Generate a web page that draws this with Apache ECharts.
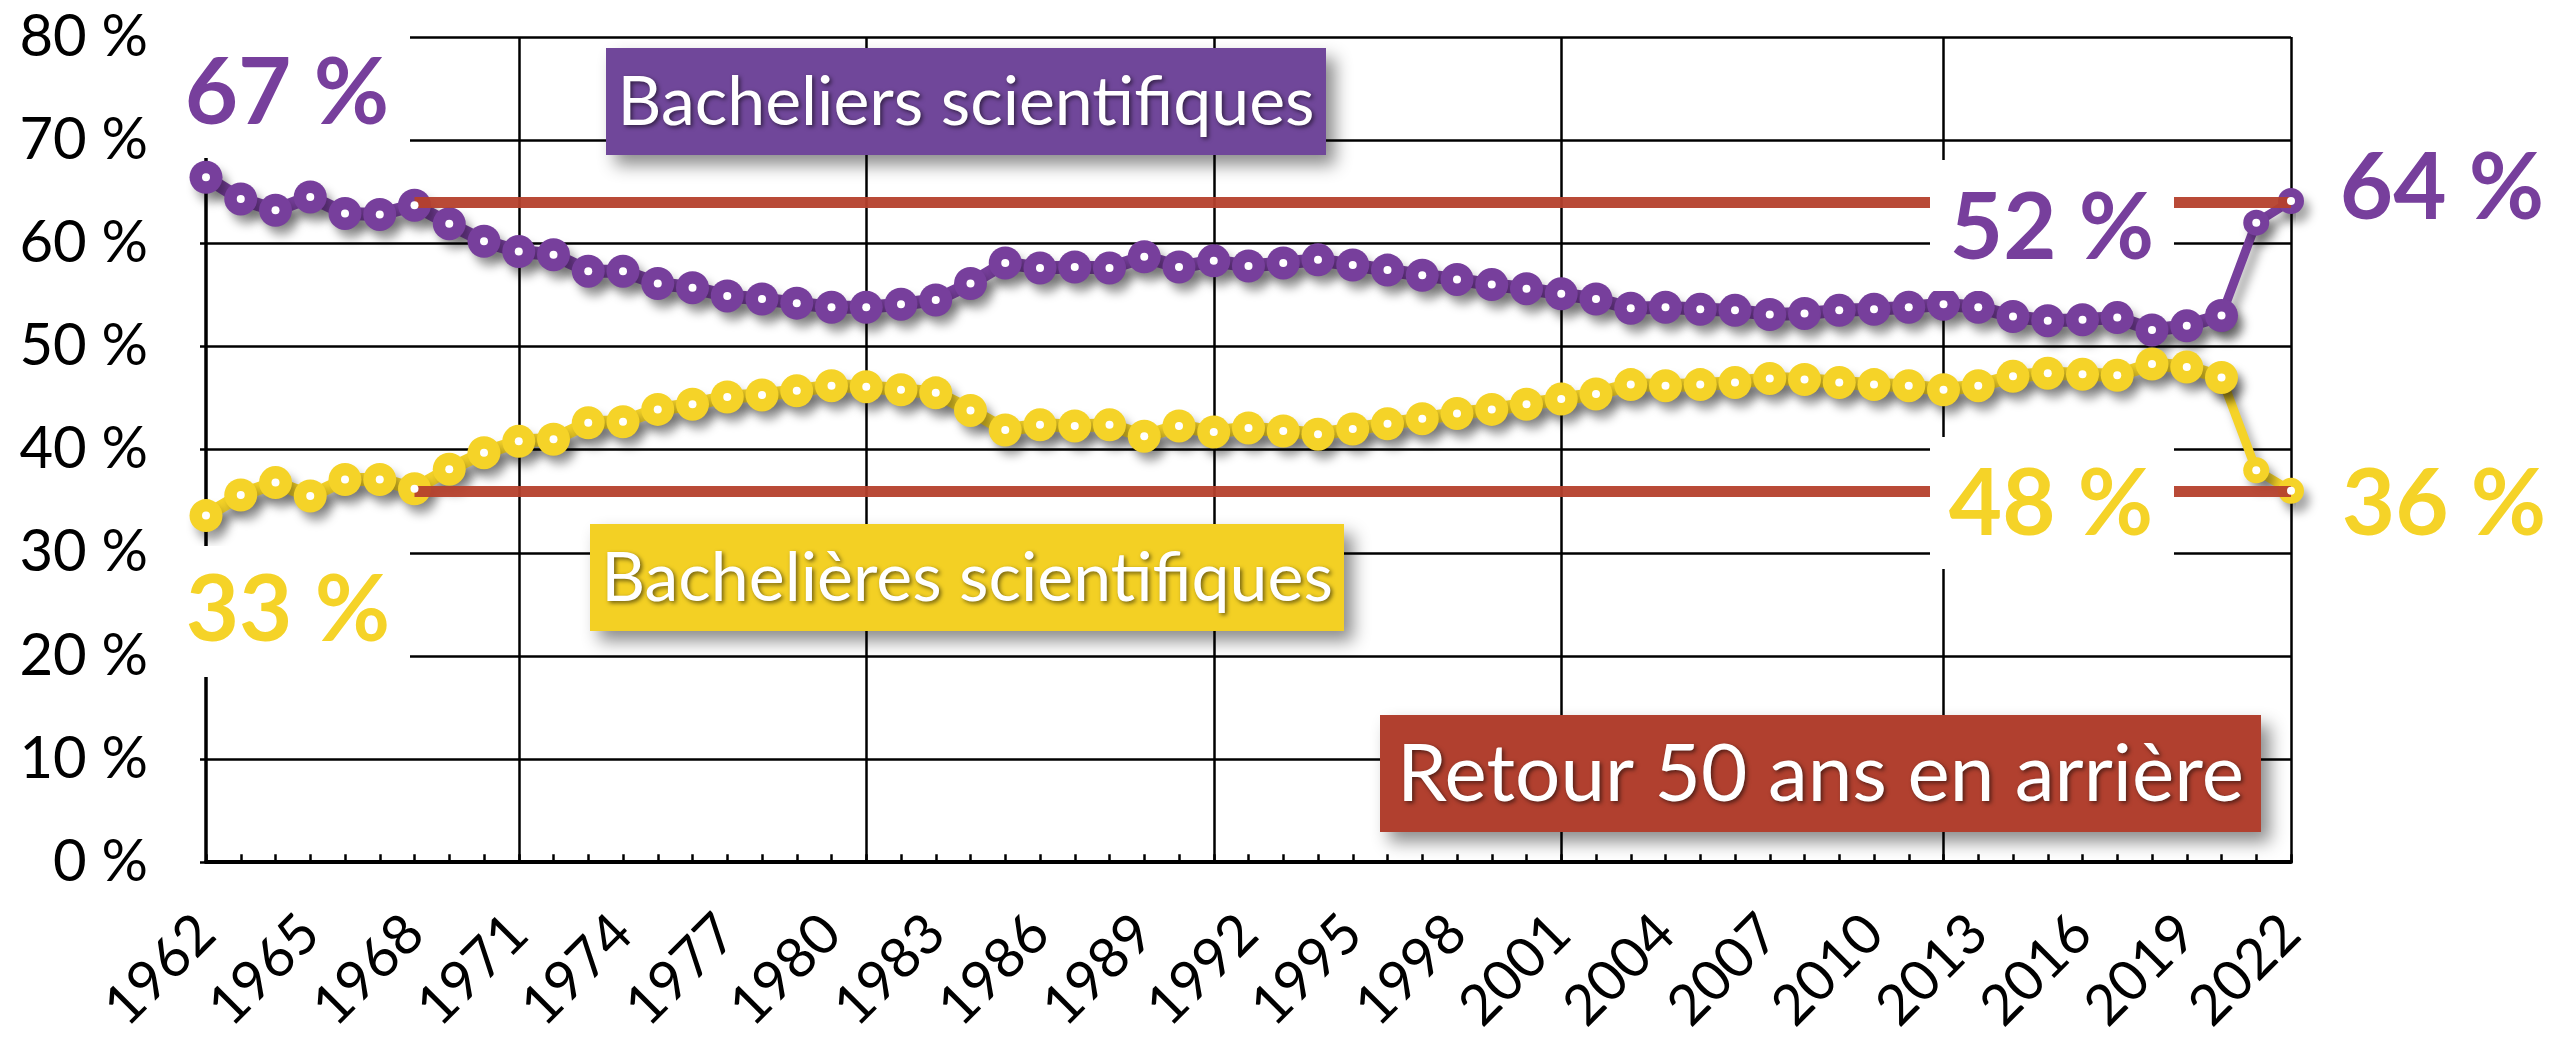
<!DOCTYPE html>
<html>
<head>
<meta charset="utf-8">
<title>Bacheliers scientifiques</title>
<script src="https://cdn.jsdelivr.net/npm/echarts@6/dist/echarts.min.js"></script>
<style>
html, body { margin: 0; padding: 0; background: #fff; }
#chart { width: 2558px; height: 1038px; }
</style>
</head>
<body>
<div id="chart"></div>
<script>
// années du bac (catégories de l'axe x)
var years = ['1962','1963','1964','1965','1966','1967','1968','1969','1970','1971',
	'1972','1973','1974','1975','1976','1977','1978','1979','1980','1981',
	'1982','1983','1984','1985','1986','1987','1988','1989','1990','1991',
	'1992','1993','1994','1995','1996','1997','1998','1999','2000','2001',
	'2002','2003','2004','2005','2006','2007','2008','2009','2010','2011',
	'2012','2013','2014','2015','2016','2017','2018','2019','2020','2021','2022'];

// part des garçons parmi les bacheliers scientifiques (%)
var garcons = [66.4,64.3,63.2,64.5,62.9,62.8,63.7,61.9,60.2,59.2,
	58.9,57.3,57.3,56.1,55.7,54.9,54.6,54.2,53.8,53.8,
	54.1,54.5,56.1,58.1,57.6,57.7,57.6,58.7,57.7,58.3,
	57.8,58.1,58.4,57.9,57.4,56.9,56.5,56.0,55.6,55.1,
	54.6,53.7,53.8,53.6,53.5,53.1,53.2,53.5,53.6,53.8,
	54.1,53.8,52.9,52.5,52.6,52.8,51.6,52.0,53.0,62.0,64.1];

// part des filles (%)
var filles = [33.6,35.6,36.8,35.5,37.1,37.1,36.2,38.1,39.7,40.8,
	41.0,42.6,42.7,43.9,44.4,45.1,45.3,45.7,46.2,46.1,
	45.8,45.5,43.8,41.9,42.4,42.3,42.4,41.3,42.3,41.7,
	42.1,41.8,41.5,42.0,42.5,43.0,43.5,43.9,44.4,44.9,
	45.4,46.3,46.2,46.3,46.5,46.9,46.8,46.5,46.3,46.2,
	45.8,46.2,47.1,47.4,47.3,47.2,48.3,48.0,47.0,38.0,36.0];

// niveaux de 1968 ("retour 50 ans en arrière")
var refStart = '1968';
var refLevels = [64, 36];

// années des traits verticaux de la grille
var gridYears = ['1971','1981','1991','2001','2012','2022'];
var tailStart = '2020'; // trait plus fin à partir d'ici

var PURPLE = '#773f9c', YELLOW = '#f5d328', RED = '#b5402c';
var FONT = 'Lato, "Open Sans", sans-serif';

var tailIdx = years.indexOf(tailStart);
var head = function(arr){ return arr.map(function(v,i){ return i <= tailIdx ? v : null; }); };
var tail = function(arr){ return arr.map(function(v,i){ return i >= tailIdx ? v : null; }); };

var shadow = {
	shadowColor: 'rgba(0,0,0,0.35)',
	shadowBlur: 10,
	shadowOffsetX: 6,
	shadowOffsetY: 9
};

// trait + grosses pastilles colorées
let beadSeries = (name, data, color, lineW, dotSize, z) => ({
	name: name,
	type: 'line',
	z: z,
	data: data,
	symbol: 'circle',
	symbolSize: dotSize,
	showAllSymbol: true,
	lineStyle: Object.assign({ color: color, width: lineW }, shadow),
	itemStyle: Object.assign({ color: color }, shadow),
	emphasis: { disabled: true }
});

// petits points blancs au centre des pastilles
let whiteDots = (name, data, size) => ({
	name: name + ' (points)',
	type: 'line',
	z: 6,
	data: data,
	symbol: 'circle',
	symbolSize: size,
	showAllSymbol: true,
	lineStyle: { width: 0, opacity: 0 },
	itemStyle: { color: '#fff' },
	emphasis: { disabled: true }
});

let whiteBox = (x, y, w, h) => ({
	type: 'rect', z: 50,
	shape: { x: x, y: y, width: w, height: h },
	style: { fill: '#fff' }
});

let bigLabel = (text, x, y, color) => ({
	type: 'text', z: 60,
	style: {
		text: text, x: x, y: y, fill: color,
		font: 'bold 92px ' + FONT,
		align: 'center', verticalAlign: 'middle'
	}
});

let tagBox = (text, x, y, w, h, color, size) => ({
	type: 'group', z: 70,
	children: [{
		type: 'rect', z: 70,
		shape: { x: x, y: y, width: w, height: h },
		style: {
			fill: color,
			shadowColor: 'rgba(0,0,0,0.45)',
			shadowBlur: 16, shadowOffsetX: 9, shadowOffsetY: 10
		}
	}, {
		type: 'text', z: 71,
		style: {
			text: text, x: x + w / 2, y: y + h / 2 + 2, fill: '#fff',
			font: size + 'px ' + FONT,
			align: 'center', verticalAlign: 'middle',
			textShadowColor: 'rgba(0,0,0,0.55)', textShadowBlur: 4,
			textShadowOffsetX: 2, textShadowOffsetY: 2
		}
	}]
});

var chart = echarts.init(document.getElementById('chart'));
var option = {
	animation: false,
	backgroundColor: '#fff',
	grid: { left: 206, right: 267, top: 37, bottom: 173 },
	xAxis: {
		type: 'category',
		data: years,
		boundaryGap: false,
		axisLine: { lineStyle: { color: '#000', width: 4 } },
		axisTick: {
			inside: true, length: 8, interval: 0,
			lineStyle: { color: '#000', width: 2.5 }
		},
		axisLabel: {
			interval: 2, rotate: 45, margin: 62,
			fontFamily: FONT, fontSize: 56, color: '#000'
		},
		splitLine: {
			show: true,
			interval: function(index, value){ return gridYears.indexOf(value) >= 0; },
			lineStyle: { color: '#000', width: 2.5 }
		}
	},
	yAxis: {
		type: 'value',
		min: 0, max: 80, interval: 10,
		axisLine: { show: true, lineStyle: { color: '#000', width: 3.5 } },
		axisTick: { show: true, length: 6, lineStyle: { color: '#000', width: 2.5 } },
		axisLabel: {
			formatter: '{value} %', margin: 58,
			fontFamily: FONT, fontSize: 58, color: '#000'
		},
		splitLine: { lineStyle: { color: '#000', width: 2.5 } }
	},
	series: [
		{
			name: 'Retour 50 ans en arrière',
			type: 'line',
			z: 1,
			data: [],
			markLine: {
				silent: true,
				symbol: 'none',
				label: { show: false },
				lineStyle: { color: RED, width: 11, type: 'solid', opacity: 0.95 },
				data: refLevels.map(function(lv){
					return [{ coord: [refStart, lv] }, { coord: [years[years.length - 1], lv] }];
				})
			}
		},
		beadSeries('Bacheliers scientifiques (fin)', tail(garcons), PURPLE, 9, 26, 3),
		beadSeries('Bachelières scientifiques (fin)', tail(filles), YELLOW, 9, 26, 3),
		beadSeries('Bacheliers scientifiques', head(garcons), PURPLE, 13, 33, 4),
		beadSeries('Bachelières scientifiques', head(filles), YELLOW, 13, 33, 4),
		whiteDots('Bacheliers scientifiques', garcons, 8),
		whiteDots('Bachelières scientifiques', filles, 8)
	],
	graphic: [
		whiteBox(192, 20, 218, 138),
		whiteBox(192, 546, 218, 131),
		whiteBox(1930, 160, 244, 131),
		whiteBox(1930, 437, 244, 132),
		bigLabel('67 %', 287, 94, PURPLE),
		bigLabel('33 %', 288, 611, YELLOW),
		bigLabel('52 %', 2052, 229, PURPLE),
		bigLabel('48 %', 2051, 505, YELLOW),
		bigLabel('64 %', 2442, 189, PURPLE),
		bigLabel('36 %', 2444, 505, YELLOW),
		tagBox('Bacheliers scientifiques', 606, 48, 720, 107, '#70479a', 68),
		tagBox('Bachelières scientifiques', 590, 524, 754, 107, '#f3d024', 68),
		tagBox('Retour 50 ans en arrière', 1380, 715, 881, 117, '#b1402f', 80)
	]
};
chart.setOption(option);
</script>
</body>
</html>
